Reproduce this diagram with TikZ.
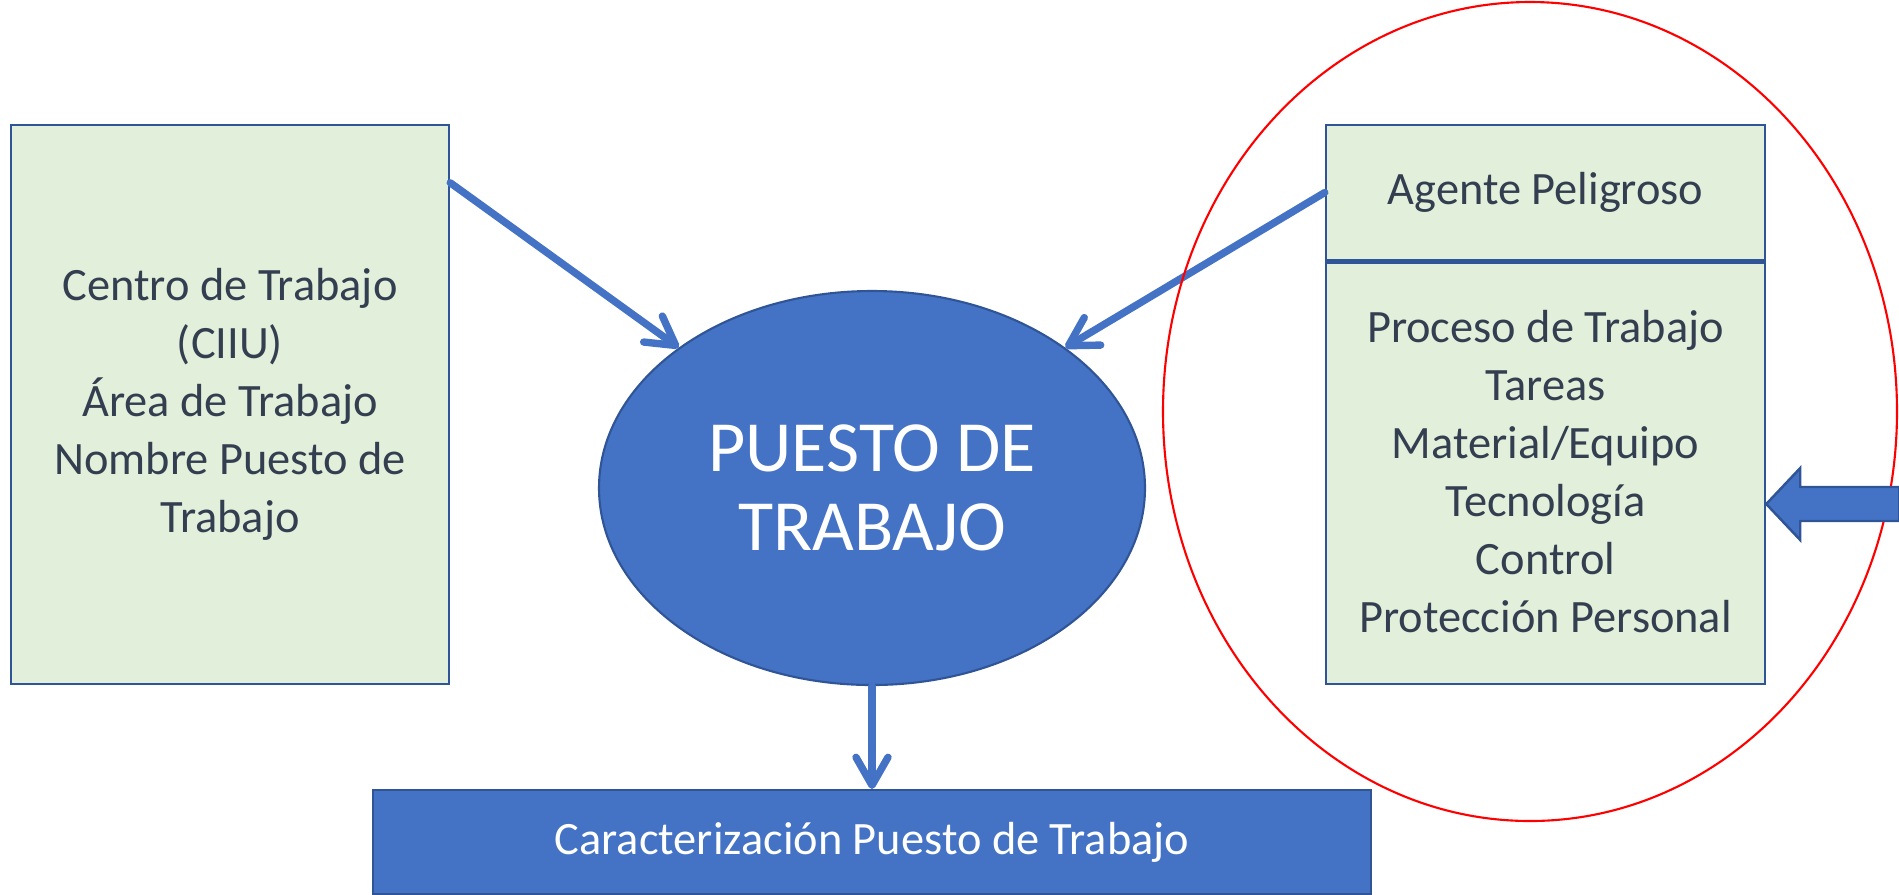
\documentclass[tikz,border=0pt]{standalone}
\usepackage{fontspec}
\setmainfont{Carlito}
\usetikzlibrary{arrows.meta,shapes.geometric,calc}

\definecolor{boxgreen}{HTML}{E2EFDA}
\definecolor{boxline}{HTML}{2F5597}
\definecolor{puestoblue}{HTML}{4472C4}
\definecolor{textgray}{HTML}{333F50}

\tikzset{
  greenbox/.style={draw=boxline, line width=0.7pt, fill=boxgreen, text=textgray,
    align=center, inner sep=0pt, font=\fontsize{13.2}{16.5}\selectfont},
  bluebox/.style={draw=boxline, line width=0.6pt, fill=puestoblue, text=white,
    align=center, inner sep=0pt},
  flecha/.style={draw=puestoblue, line width=2.1pt, line cap=round,
    -{Straight Barb[length=2.8mm,width=3.2mm,round]}},
}

\begin{document}
\begin{tikzpicture}
  \useasboundingbox (0,0) rectangle (18.99,-8.94);

  % boxes
  \node[greenbox, minimum width=4.38cm, minimum height=5.59cm] (centro) at (2.30,-4.045)
    {Centro de Trabajo\\(CIIU)\\Área de Trabajo\\Nombre Puesto de\\Trabajo};
  \node[greenbox, minimum width=4.39cm, minimum height=1.35cm] (agente) at (15.455,-1.925)
    {Agente Peligroso};
  \node[greenbox, minimum width=4.39cm, minimum height=4.24cm] (proceso) at (15.455,-4.72)
    {Proceso de Trabajo\\Tareas\\Material/Equipo\\Tecnología\\Control\\Protección Personal};
  \draw[boxline, line width=1.4pt] (agente.south west) -- (agente.south east);

  \node[bluebox, ellipse, minimum width=5.46cm, minimum height=3.94cm,
    font=\fontsize{20.5}{22.5}\selectfont] (puesto) at (8.72,-4.88) {PUESTO DE\\TRABAJO};
  \node[bluebox, minimum width=9.98cm, minimum height=1.04cm,
    font=\fontsize{13.2}{16.5}\selectfont] (caract) at (8.72,-8.42)
    {Caracterización Puesto de Trabajo};

  % arrows
  \draw[flecha] ($(centro.north east)+(0,-0.59)$) -- (puesto.144);
  \draw[flecha] (agente.west) -- (puesto.36);
  \draw[flecha] (puesto.south) -- (caract.north);

  \draw[red, line width=0.6pt] (15.30,-4.115) ellipse (3.67cm and 4.095cm);

  % block arrow
  \coordinate (punta) at ($(proceso.east)+(0,-0.32)$);
  \draw[fill=puestoblue, draw=boxline, line width=0.7pt] (punta) -- ++(0.34,0.36)
    -- ++(0,-0.19) -- ++(0.99,0) -- ++(0,-0.34) -- ++(-0.99,0) -- ++(0,-0.19) -- cycle;
\end{tikzpicture}
\end{document}
